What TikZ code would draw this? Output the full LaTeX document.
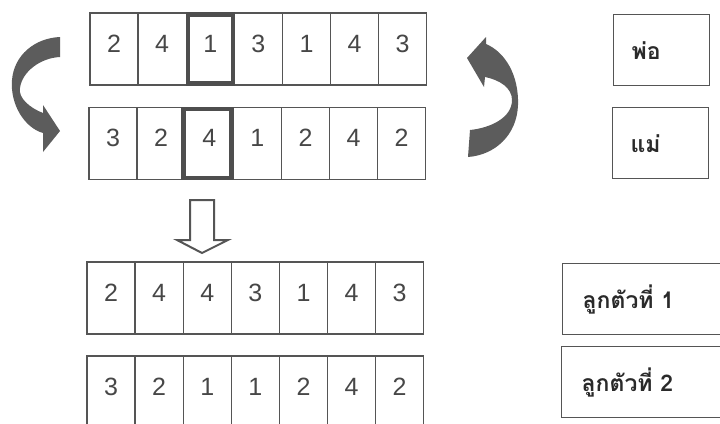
\documentclass[tikz,border=0pt]{standalone}
\usepackage{fontspec}
\setmainfont{Liberation Sans}
\newfontfamily\thaifont[Script=Thai]{Loma}
\definecolor{linegray}{HTML}{555555}
\definecolor{hlgray}{HTML}{4E4E4E}
\definecolor{digitgray}{HTML}{474747}
\definecolor{arrowgray}{HTML}{5C5C5C}
\definecolor{thaitext}{HTML}{2A2A2A}
\begin{document}
\begin{tikzpicture}[x=1pt,y=-1pt,
  cell/.style={draw=linegray, line width=1.3pt, minimum width=48.1pt, minimum height=72pt,
    inner sep=0pt, text height=18pt, text depth=12pt, text=digitgray,
    font=\fontsize{25}{25}\selectfont},
  hl/.style={draw=hlgray, line width=4.5pt},
  parentbox/.style={draw=linegray, line width=1.3pt, minimum height=71pt, inner xsep=18pt,
    text width=60pt, align=left, text=thaitext, font=\thaifont\bfseries\fontsize{23}{23}\selectfont},
  childbox/.style={draw=linegray, line width=1.3pt, minimum height=71pt, inner xsep=20pt,
    text width=130pt, align=left, text=thaitext, font=\thaifont\bfseries\fontsize{23}{23}\selectfont},
  curved/.style={fill=arrowgray, draw=none},
  hollow/.style={draw=linegray, line width=2pt, fill=white, line join=miter}
]
\useasboundingbox (0,0) rectangle (720,423);
\clip (0,0) rectangle (720,423);
\fill[white] (0,0) rectangle (720,423);

% parent 1
\foreach \v [count=\i] in {2,4,1,3,1,4,3}
  \node[cell] (p\i) at ({90+48.1*(\i-0.5)},49) {\v};
% parent 2
\foreach \v [count=\i] in {3,2,4,1,2,4,2}
  \node[cell] (m\i) at ({89+48.1*(\i-0.5)},143.5) {\v};
% child 1
\foreach \v [count=\i] in {2,4,4,3,1,4,3}
  \node[cell] (c\i) at ({87+48.1*(\i-0.5)},298) {\v};
% child 2
\foreach \v [count=\i] in {3,2,1,1,2,4,2}
  \node[cell] (d\i) at ({87+48.1*(\i-0.5)},392) {\v};

% highlighted crossover genes
\draw[hl] ([xshift=2.2pt,yshift=-2.2pt]p3.north west) rectangle ([xshift=-2.2pt,yshift=2.2pt]p3.south east);
\draw[hl] ([xshift=-1pt,yshift=-2.2pt]m3.north west) rectangle ([xshift=-2.5pt,yshift=2.2pt]m3.south east);

% labels on the right
\node[parentbox, anchor=north west] (father) at (613,14) {พ่อ};
\node[parentbox, anchor=north west] (mother) at (612,107) {แม่};
\node[childbox, anchor=north west] (child1) at (562,263) {ลูกตัวที่ 1};
\node[childbox, anchor=north west] (child2) at (561,346) {ลูกตัวที่ 2};

% left curved arrow
\path[curved] (60,37) .. controls (35,38) and (14,55) .. (12,80)
  .. controls (10,105) and (25,128) .. (43,133)
  -- (43,152) -- (60,131) -- (43,105) -- (43,113)
  .. controls (30,108) and (18,98) .. (20,88)
  .. controls (22,72) and (40,58) .. (60,57) -- cycle;

% right curved arrow
\path[curved] (470,130) .. controls (490,128) and (512,118) .. (512,100)
  .. controls (512,88) and (500,80) .. (485,77)
  -- (484,87) -- (467,58) -- (486,37) -- (486,44)
  .. controls (505,52) and (519,75) .. (518,105)
  .. controls (517,135) and (495,155) .. (468,157) -- cycle;

% down block arrow
\draw[hollow] (190,200) -- (214,200) -- (214,240) -- (228,240) -- (202,253)
  -- (177,240) -- (190,240) -- cycle;
\end{tikzpicture}
\end{document}
